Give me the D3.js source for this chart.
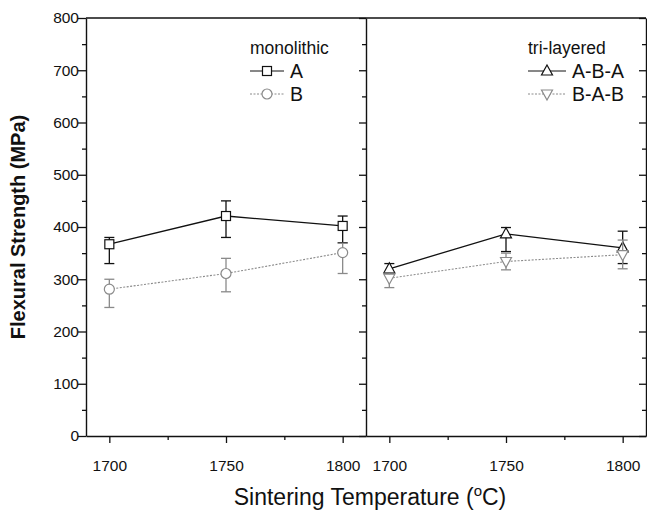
<!DOCTYPE html>
<html>
<head>
<meta charset="utf-8">
<script src="https://cdn.jsdelivr.net/npm/d3@7"></script>
<style>
  body { margin: 0; background: #fff; }
  svg text { font-family: "Liberation Sans", Arial, sans-serif; fill: #111; }
</style>
</head>
<body>
<svg id="chart" width="647" height="512"></svg>
<script>
// temperatures (x)
var temps = [1700, 1750, 1800];

// monolithic
var monoA    = [367, 421, 402];
var monoAHi  = [380, 450, 421];
var monoALo  = [330, 380, 370];
var monoB    = [281, 311, 351];
var monoBHi  = [300, 340, 369];
var monoBLo  = [246, 276, 311];

// tri-layered
var triABA   = [320, 387, 360];
var triABAHi = [330, 399, 392];
var triABALo = [312, 353, 330];
var triBAB   = [302, 334, 347];
var triBABHi = [312, 350, 375];
var triBABLo = [284, 318, 320];

var yTicks = [0, 100, 200, 300, 400, 500, 600, 700, 800];
var xTicks = [1700, 1750, 1800];

var svg = d3.select("#chart");
var plotTop = 18, plotBottom = 436;
var panels = [
  { x0: 86, x1: 366, title: "monolithic", legX: 250,
    series: [
      { name: "A", v: monoA, hi: monoAHi, lo: monoALo, sym: "square", color: "#111", dash: null, width: 1.3 },
      { name: "B", v: monoB, hi: monoBHi, lo: monoBLo, sym: "circle", color: "#8a8a8a", dash: "2,1.5", width: 1.1 }
    ] },
  { x0: 366, x1: 646, title: "tri-layered", legX: 528,
    series: [
      { name: "A-B-A", v: triABA, hi: triABAHi, lo: triABALo, sym: "up", color: "#111", dash: null, width: 1.3 },
      { name: "B-A-B", v: triBAB, hi: triBABHi, lo: triBABLo, sym: "down", color: "#8a8a8a", dash: "2,1.5", width: 1.1 }
    ] }
];

var y = d3.scaleLinear().domain([0, 800]).range([plotBottom, plotTop]);

function drawMarker(g, sym, cx, cy, color) {
  var m;
  if (sym == "square") {
    m = g.append("rect").attr("x", cx - 4.5).attr("y", cy - 4.5).attr("width", 9).attr("height", 9);
  } else if (sym == "circle") {
    m = g.append("circle").attr("cx", cx).attr("cy", cy).attr("r", 5);
  } else if (sym == "up") {
    m = g.append("path").attr("d", "M" + cx + "," + (cy - 6) + "L" + (cx + 5.5) + "," + (cy + 4) + "L" + (cx - 5.5) + "," + (cy + 4) + "Z");
  } else {
    m = g.append("path").attr("d", "M" + cx + "," + (cy + 6) + "L" + (cx + 5.5) + "," + (cy - 4) + "L" + (cx - 5.5) + "," + (cy - 4) + "Z");
  }
  m.attr("fill", "#fff").attr("stroke", color).attr("stroke-width", 1.2);
}

panels.forEach(function(p, pi) {
  var x = d3.scaleLinear().domain([1690, 1810]).range([p.x0, p.x1]);
  var g = svg.append("g");

  // bottom axis
  var xAxis = d3.axisBottom(x).tickValues(xTicks).tickSize(7).tickSizeOuter(0).tickFormat(d3.format("d"));
  var gx = g.append("g").attr("transform", "translate(0," + plotBottom + ")").call(xAxis);
  gx.selectAll("text").attr("font-size", 15.5).attr("dy", "1.6em");
  g.append("g").attr("transform", "translate(0," + plotBottom + ")")
    .call(d3.axisBottom(x).tickValues([1725, 1775]).tickSize(4).tickSizeOuter(0).tickFormat(""))
    .select(".domain").remove();

  // left axis
  var yAxis = d3.axisLeft(y).tickValues(yTicks).tickSize(pi == 0 ? 8 : 7).tickSizeOuter(0);
  var gy = g.append("g").attr("transform", "translate(" + p.x0 + ",0)").call(yAxis);
  if (pi == 0) gy.selectAll("text").attr("font-size", 15.5).attr("x", -7);
  else gy.selectAll("text").remove();
  g.append("g").attr("transform", "translate(" + p.x0 + ",0)")
    .call(d3.axisLeft(y).tickValues(d3.range(50, 800, 100)).tickSize(4).tickFormat(""))
    .select(".domain").remove();

  // top line
  g.append("line").attr("x1", p.x0).attr("x2", p.x1).attr("y1", plotTop).attr("y2", plotTop).attr("stroke", "#111").attr("stroke-width", 1.3);

  // right ticks for the last panel
  if (pi == 1) {
    var gr = g.append("g").attr("transform", "translate(" + p.x1 + ",0)")
      .call(d3.axisLeft(y).tickValues(yTicks).tickSize(-7).tickSizeOuter(0).tickFormat(""));
    gr.selectAll(".tick line").attr("x2", -7);
    g.append("g").attr("transform", "translate(" + p.x1 + ",0)")
      .call(d3.axisLeft(y).tickValues(d3.range(50, 800, 100)).tickSize(-4).tickFormat(""))
      .call(function(s) { s.select(".domain").remove(); s.selectAll(".tick line").attr("x2", -4); });
  }
  g.selectAll(".domain").attr("stroke", "#111").attr("stroke-width", 1.4);
  g.selectAll(".tick line").attr("stroke", "#111").attr("stroke-width", 1.3);

  // series
  p.series.forEach(function(s) {
    var line = d3.line().x(function(d, i) { return x(temps[i]); }).y(function(d) { return y(d); });
    g.append("path").datum(s.v).attr("d", line).attr("fill", "none")
      .attr("stroke", s.color).attr("stroke-width", s.width).attr("stroke-dasharray", s.dash);
    s.v.forEach(function(v, i) {
      var cx = x(temps[i]);
      var eb = g.append("g").attr("stroke", s.color).attr("stroke-width", 1.3);
      eb.append("line").attr("x1", cx).attr("x2", cx).attr("y1", y(s.hi[i])).attr("y2", y(s.lo[i]));
      [s.hi[i], s.lo[i]].forEach(function(e) {
        eb.append("line").attr("x1", cx - 5).attr("x2", cx + 5).attr("y1", y(e)).attr("y2", y(e));
      });
    });
    s.v.forEach(function(v, i) {
      drawMarker(g, s.sym, x(temps[i]), y(v), s.color);
    });
  });

  // legend
  var lg = g.append("g");
  lg.append("text").attr("x", p.legX).attr("y", 54).attr("font-size", 17.5).text(p.title);
  p.series.forEach(function(s, i) {
    var ly = 71 + i * 23;
    var w = pi == 0 ? 34 : 38;
    lg.append("line").attr("x1", p.legX).attr("x2", p.legX + w).attr("y1", ly).attr("y2", ly)
      .attr("stroke", s.color).attr("stroke-width", 1).attr("stroke-dasharray", s.dash);
    drawMarker(lg, s.sym, p.legX + w / 2, ly, s.color);
    lg.append("text").attr("x", p.legX + w + 6).attr("y", ly + 7).attr("font-size", 19.5).text(s.name);
  });
});

// axis titles
svg.append("text").attr("transform", "translate(25," + ((plotTop + plotBottom) / 2) + ") rotate(-90)")
  .attr("text-anchor", "middle").attr("font-size", 20).attr("font-weight", "bold").text("Flexural Strength (MPa)");
var xt = svg.append("text").attr("x", 370).attr("y", 505).attr("text-anchor", "middle").attr("font-size", 23);
xt.append("tspan").text("Sintering Temperature (");
xt.append("tspan").attr("font-size", 15).attr("dy", -9).text("o");
xt.append("tspan").attr("dy", 9).text("C)");
</script>
</body>
</html>
